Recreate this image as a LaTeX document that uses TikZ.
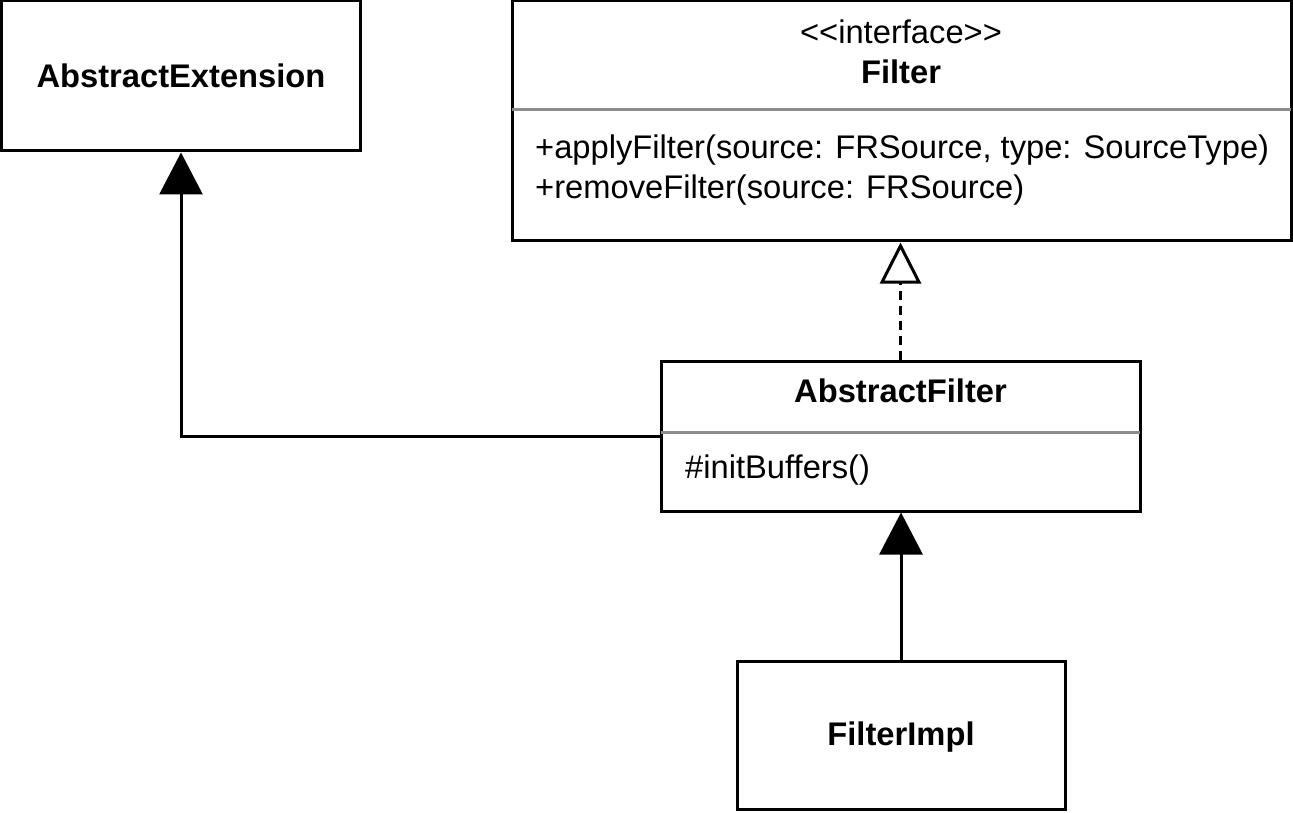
\documentclass[tikz,border=0pt]{standalone}
\usepackage{fontspec}
\setmainfont{Liberation Sans}
\usetikzlibrary{arrows.meta}
\begin{document}
\begin{tikzpicture}[x=1pt,y=-1pt,
  umlbox/.style={draw=black, line width=3pt, fill=white, inner sep=0pt, minimum width=#1},
  sep/.style={draw=black!45, line width=3pt},
  txt/.style={inner sep=0pt, font=\fontsize{32.7}{39}\selectfont},
  btxt/.style={txt, font=\fontsize{32.7}{39}\selectfont\bfseries},
  conn/.style={line width=3pt},
  inherit/.style={-{Triangle[length=42pt, width=43pt]}},
  realize/.style={-{Triangle[open, length=41pt, width=41pt]}, dash pattern=on 9pt off 6pt}]
\useasboundingbox (0,0) rectangle (1293,813);

% classes
\node[umlbox=359pt, minimum height=150pt] (ext) at (181,76) {};
\node[btxt] (extname) at (181,76) {AbstractExtension};

\node[umlbox=779pt, minimum height=240pt] (filter) at (901.5,121) {};
\node[txt] (stereo) at (901,32) {{<}{<}interface{>}{>}};
\node[btxt] (filtername) at (901,72) {Filter};
\draw[sep] (512,110) coordinate (fsepl) -- (1291,110) coordinate (fsepr);
\node[txt, anchor=west] (m1) at (535,150) {+applyFilter(source: FRSource, type: SourceType)};
\node[txt, anchor=west] (m2) at (535,190) {+removeFilter(source: FRSource)};

\node[umlbox=479pt, minimum height=150pt] (af) at (900.5,436) {};
\node[btxt] (afname) at (900.5,391) {AbstractFilter};
\draw[sep] (661,432) coordinate (asepl) -- (1140,432) coordinate (asepr);
\node[txt, anchor=west] (m3) at (685,470) {\#initBuffers()};

\node[umlbox=328pt, minimum height=148pt] (impl) at (901,735) {};
\node[btxt] (implname) at (901,737) {FilterImpl};

% relations
\draw[conn, inherit] (af.west) -| (ext.south);
\draw[conn, realize] (af.north) -- (filter.south -| af.north);
\draw[conn, inherit] (impl.north) -- (af.south -| impl.north);
\end{tikzpicture}
\end{document}
